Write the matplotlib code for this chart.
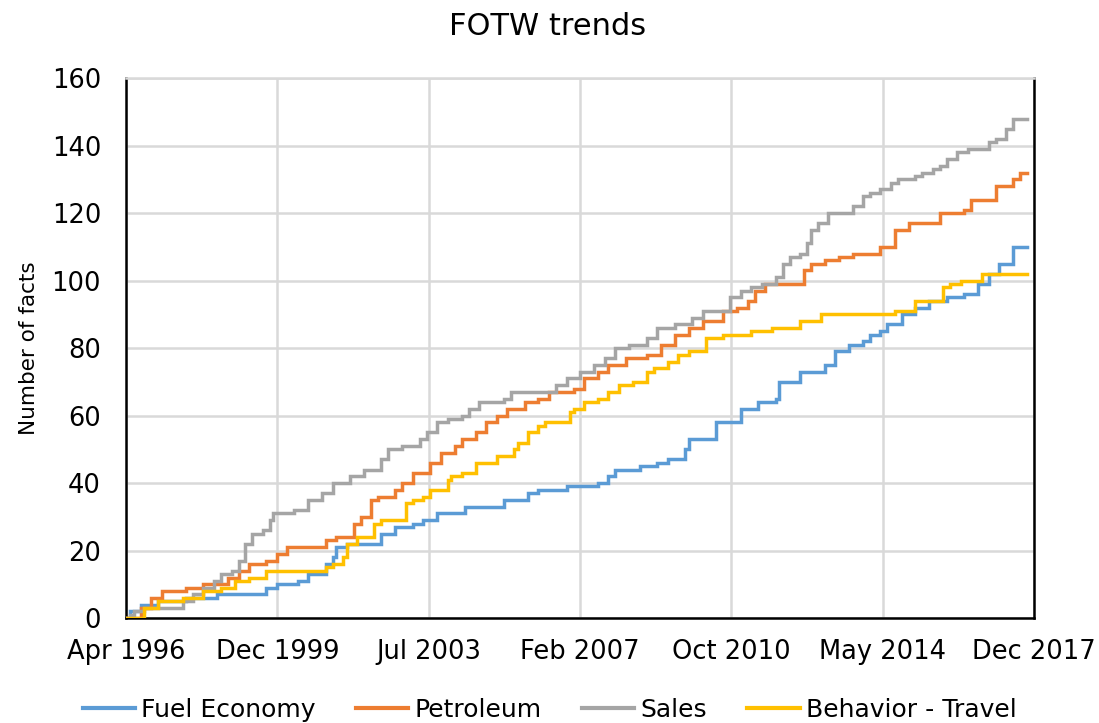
import matplotlib
matplotlib.use("Agg")
import matplotlib.pyplot as plt
import pandas as pd

plt.rcParams['font.family'] = ['DejaVu Sans']

fuel_dates = ["1996-04-25","1996-06","1996-09","1997-02","1997-10","1998-07","1999-09","1999-12","2000-06","2000-09",
              "2001-02","2001-04","2001-05","2001-08","2002-06","2002-10","2003-03","2003-06","2003-10","2004-06",
              "2005-05","2005-12","2006-03","2006-11","2007-08","2007-11","2008-01","2008-08","2009-01","2009-04",
              "2009-09","2009-10","2010-06","2011-01","2011-06","2011-11","2011-12","2012-06","2013-01","2013-04",
              "2013-08","2013-12","2014-02","2014-05","2014-07","2014-11","2015-03","2015-07","2015-12","2016-05",
              "2016-09","2016-12","2017-03","2017-07","2017-11"]
fuel_vals = [0,2,4,5,6,7,9,10,11,13,
             16,18,21,22,25,27,28,29,31,33,
             35,37,38,39,40,42,44,45,46,47,
             50,53,58,62,64,65,70,73,75,79,
             81,82,84,85,87,90,92,94,95,96,
             99,102,105,110,110]

petro_dates = ["1996-04-25","1996-09","1996-12","1997-03","1997-10","1998-03","1998-10","1999-01","1999-04","1999-09",
               "1999-12","2000-03","2001-02","2001-05","2001-10","2001-12","2002-03","2002-05","2002-10","2002-12",
               "2003-03","2003-08","2003-11","2004-03","2004-05","2004-09","2004-12","2005-03","2005-06","2005-11",
               "2006-03","2006-06","2007-01","2007-04","2007-08","2007-11","2008-04","2008-10","2009-02","2009-06",
               "2009-10","2010-02","2010-08","2010-12","2011-03","2011-05","2011-08","2012-07","2012-09","2013-01",
               "2013-05","2013-09","2014-05","2014-09","2015-01","2015-10","2016-05","2016-07","2017-02","2017-07",
               "2017-09","2017-11"]
petro_vals = [0,3,6,8,9,10,12,14,16,17,
              19,21,23,24,28,30,35,36,38,40,
              43,46,49,51,53,55,58,60,62,64,
              65,67,68,71,73,75,77,78,81,84,
              86,88,91,92,94,97,99,103,105,106,
              107,108,110,115,117,120,121,124,128,130,
              132,132]

sales_dates = ["1996-04-25","1996-06","1996-07","1996-10","1997-09","1997-12","1998-03","1998-06","1998-08","1998-11",
               "1999-01","1999-03","1999-05","1999-08","1999-10","1999-11","2000-05","2000-09","2001-01","2001-04",
               "2001-09","2002-01","2002-06","2002-08","2002-12","2003-05","2003-07","2003-10","2004-01","2004-05",
               "2004-07","2004-10","2005-05","2005-07","2006-08","2006-11","2007-03","2007-07","2007-10","2008-01",
               "2008-05","2008-10","2009-01","2009-06","2009-11","2010-02","2010-10","2011-01","2011-04","2011-07",
               "2011-11","2012-01","2012-03","2012-06","2012-08","2012-09","2012-11","2013-02","2013-09","2013-12",
               "2014-02","2014-05","2014-08","2014-10","2015-03","2015-05","2015-08","2015-10","2015-12","2016-03",
               "2016-06","2016-12","2017-02","2017-05","2017-07","2017-11"]
sales_vals = [0,1,2,3,5,7,9,11,13,14,
              17,22,25,26,29,31,32,35,37,40,
              42,44,47,50,51,53,55,58,59,60,
              62,64,65,67,69,71,73,75,77,80,
              81,83,86,87,89,91,95,97,98,99,
              101,105,107,108,111,115,117,120,122,125,
              126,127,129,130,131,132,133,134,136,138,
              139,141,142,145,148,148]

travel_dates = ["1996-04-25","1996-09","1996-10","1997-02","1997-09","1998-03","1998-08","1998-12","1999-04","1999-09",
                "2001-02","2001-04","2001-07","2001-08","2001-11","2002-04","2002-06","2003-01","2003-03","2003-06",
                "2003-08","2004-01","2004-02","2004-05","2004-09","2005-03","2005-08","2005-09","2005-12","2006-03",
                "2006-05","2006-12","2007-01","2007-04","2007-08","2007-11","2008-02","2008-06","2008-10","2008-12",
                "2009-04","2009-07","2009-10","2010-03","2010-08","2011-04","2011-10","2012-06","2012-12","2014-09",
                "2015-03","2015-11","2016-01","2016-04","2016-10","2017-11"]
travel_vals = [0,0,3,5,6,8,9,11,12,14,
               15,16,18,22,24,28,29,34,35,36,
               38,41,42,43,46,48,50,52,55,57,
               58,61,62,64,65,67,69,70,73,74,
               76,78,79,83,84,85,86,88,90,91,
               94,98,99,100,102,102]

series_names = ["Fuel Economy", "Petroleum", "Sales", "Behavior - Travel"]
series_colors = ["#5B9BD5", "#ED7D31", "#A5A5A5", "#FFC000"]
y_ticks = [0, 20, 40, 60, 80, 100, 120, 140, 160]
x_start = "1996-04-25"
x_step_days = 1320

fig = plt.figure(figsize=(10.99, 7.23), dpi=100)
ax = fig.add_axes([0.1147, 0.1452, 0.8262, 0.7468])

all_series = [(fuel_dates, fuel_vals), (petro_dates, petro_vals),
              (sales_dates, sales_vals), (travel_dates, travel_vals)]
for (d, v), name, col in zip(all_series, series_names, series_colors):
    ax.plot(pd.to_datetime(d, format='mixed'), v, drawstyle='steps-post', color=col, lw=2.5,
            label=name, solid_joinstyle='miter', zorder=3)

xt = pd.date_range(x_start, periods=7, freq=f"{x_step_days}D")
ax.set_xlim(xt[0], xt[-1])
ax.set_xticks(xt)
ax.set_xticklabels([t.strftime("%b %Y") for t in xt])
ax.set_ylim(0, 160)
ax.set_yticks(y_ticks)

ax.grid(True, color="#d9d9d9", lw=1.8, zorder=0)
ax.set_axisbelow(True)
for s in ["left", "bottom", "right"]:
    ax.spines[s].set_color("black")
    ax.spines[s].set_linewidth(1.8)
ax.spines["top"].set_color("#d9d9d9")
ax.spines["top"].set_linewidth(1.8)
ax.tick_params(axis='y', length=0, labelsize=18.5, pad=18)
ax.tick_params(axis='x', length=0, labelsize=18.5, pad=15)

ax.set_ylabel("Number of facts", fontsize=15.5, labelpad=9)
fig.text(0.4986, 0.963, "FOTW trends", ha="center", va="center", fontsize=22)

leg = fig.legend(loc="center", bbox_to_anchor=(0.5, 0.018), ncol=4, frameon=False,
                 fontsize=18, handlelength=2.1, columnspacing=1.6, handletextpad=0.25)
for h in leg.get_lines():
    h.set_linewidth(3)

fig.savefig("out.png", dpi=100)
